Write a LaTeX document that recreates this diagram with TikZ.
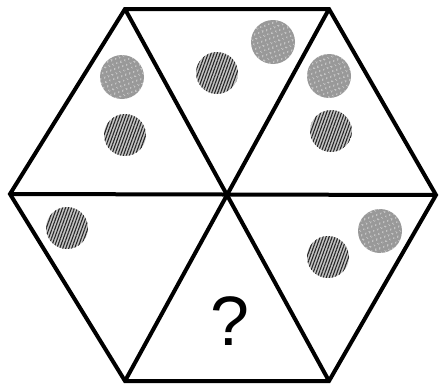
\documentclass[tikz,border=0pt]{standalone}
\usepackage{fontspec}
\setmainfont{Liberation Sans}
\usepackage{tikz}
\usetikzlibrary{patterns.meta}

\begin{document}
\begin{tikzpicture}[x=1pt,y=-1pt,
    edge/.style={line width=4pt,line join=miter},
    speckled/.style={circle,inner sep=0pt,minimum size=44pt,
      fill=gray!80,postaction={pattern={Dots[radius=0.8pt,distance=4pt,angle=20]},pattern color=white!80!gray}},
    hatched/.style={circle,inner sep=0pt,minimum size=42pt,
      fill=gray!45,postaction={pattern={Lines[angle=70,distance=2.8pt,line width=1.1pt]},pattern color=black!85}}]
  \useasboundingbox (0,0) rectangle (442,388);
  % corners
  \coordinate (tl) at (125,9);
  \coordinate (tr) at (329,9);
  \coordinate (r) at (436,195);
  \coordinate (br) at (329,381);
  \coordinate (bl) at (125,381);
  \coordinate (l) at (10,194);
  \coordinate (c) at (227,195);
  % discs
  \node[speckled] (s1) at (122,77) {};
  \node[hatched] (h1) at (125,135) {};
  \node[hatched] (h2) at (217,73) {};
  \node[speckled] (s2) at (273,42) {};
  \node[speckled] (s3) at (329,76) {};
  \node[hatched] (h3) at (331,131) {};
  \node[hatched] (h4) at (67,228) {};
  \node[hatched] (h5) at (328,257) {};
  \node[speckled] (s4) at (380,231) {};
  % outline
  \draw[edge] (tl) -- (tr) -- (r) -- (br) -- (bl) -- (l) -- cycle;
  \draw[edge] (tl) -- (br);
  \draw[edge] (tr) -- (bl);
  \draw[edge] (l) -- (r);
  \node (q) at (230,321) {\fontsize{70}{70}\selectfont ?};
\end{tikzpicture}
\end{document}
